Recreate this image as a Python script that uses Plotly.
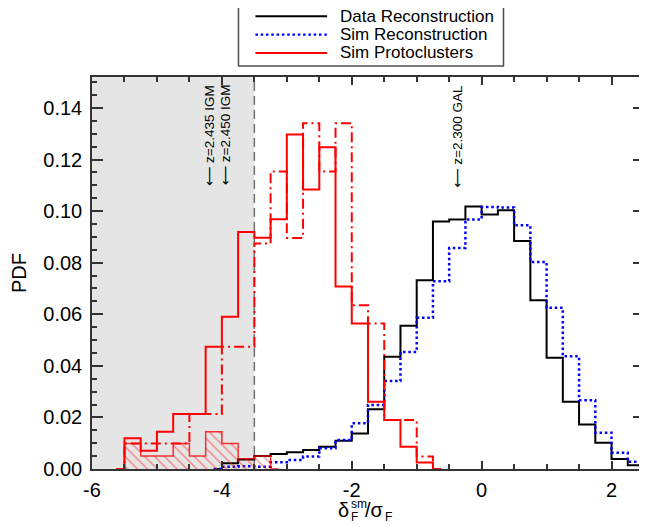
import plotly.graph_objects as go

# ---------------- data (bin centres, bin width 0.25) ----------------
red_x = [-5.625, -5.375, -5.125, -4.875, -4.625, -4.375, -4.125, -3.875, -3.625, -3.375,
         -3.125, -2.875, -2.625, -2.375, -2.125, -1.875, -1.625, -1.375, -1.125, -0.875, -0.625]
red_solid = [0.0, 0.0119, 0.0071, 0.0144, 0.0213, 0.0213, 0.0474, 0.0590, 0.0919, 0.0897,
             0.0968, 0.1297, 0.1084, 0.1248, 0.0708, 0.0564, 0.0261, 0.0190, 0.0086, 0.0025, 0.0]
red_dashdot = [0.0, 0.0099, 0.0099, 0.0099, 0.0099, 0.0213, 0.0213, 0.0474, 0.0474, 0.0874,
               0.1154, 0.0896, 0.1341, 0.1154, 0.1341, 0.0635, 0.0564, 0.0190, 0.0190, 0.0048, 0.0]

hatch_x = [-5.625, -5.375, -5.125, -4.875, -4.625, -4.375, -4.125, -3.875, -3.625, -3.375, -3.125]
hatch_y = [0.0, 0.0099, 0.0050, 0.0050, 0.0099, 0.0050, 0.0144, 0.0099, 0.0040, 0.0050, 0.0]

rec_x = [-4.125, -3.875, -3.625, -3.375, -3.125, -2.875, -2.625, -2.375, -2.125, -1.875,
         -1.625, -1.375, -1.125, -0.875, -0.625, -0.375, -0.125, 0.125, 0.375, 0.625,
         0.875, 1.125, 1.375, 1.625, 1.875, 2.125, 2.375, 2.625]
data_rec = [0.0, 0.0022, 0.0037, 0.0050, 0.0058, 0.0065, 0.0074, 0.0086, 0.0110, 0.0138,
            0.0232, 0.0435, 0.0555, 0.0732, 0.0960, 0.0967, 0.1018, 0.0987, 0.1003, 0.0884,
            0.0654, 0.0431, 0.0261, 0.0173, 0.0102, 0.0039, 0.0015, 0.0012]
sim_rec = [0.0, 0.0009, 0.0011, 0.0009, 0.0026, 0.0035, 0.0048, 0.0080, 0.0112, 0.0177,
           0.0248, 0.0341, 0.0454, 0.0586, 0.0728, 0.0857, 0.0967, 0.1016, 0.1014, 0.0945,
           0.0803, 0.0625, 0.0437, 0.0267, 0.0141, 0.0063, 0.0028, 0.0020]

x_tick_vals = [-6, -4, -2, 0, 2]
x_tick_text = ["-6", "-4", "-2", "0", "2"]

igm_x = [-4.2, -3.95]
igm_labels = ["z=2.435 IGM", "z=2.450 IGM"]
gal_x = [-0.37]
gal_labels = ["z=2.300 GAL"]

shade_x = [-6.0, -3.5]

legend_names = ["Data Reconstruction", "Sim Reconstruction", "Sim Protoclusters"]
legend_colors = ["#000000", "#0000ff", "#ff0000"]
legend_dash = ["solid", "2.5px,2.8px", "solid"]

FONT = "Liberation Sans, Arial, DejaVu Sans, sans-serif"

# the page body has an 8px default margin: the figure is sized to fit the window
OFF = 8
W, H = 647 - OFF, 527 - OFF
PL, PR, PT, PB_ = 92, 646, 77, 469          # wanted plot-area edges in window pixels

fig = go.Figure()

fig.add_trace(go.Scatter(x=rec_x, y=data_rec, mode="lines", line_shape="hvh",
                         line=dict(color="#000000", width=2), showlegend=False,
                         hoverinfo="skip"))
fig.add_trace(go.Scatter(x=rec_x, y=sim_rec, mode="lines", line_shape="hvh",
                         line=dict(color="#0000ff", width=2.5, dash="2.5px,2.8px"),
                         showlegend=False, hoverinfo="skip"))
fig.add_trace(go.Scatter(x=hatch_x, y=hatch_y, mode="lines", line_shape="hvh",
                         line=dict(color="rgba(255,0,0,0.8)", width=1.5),
                         fill="tozeroy", fillcolor="rgba(0,0,0,0)",
                         fillpattern=dict(shape="\\", fgcolor="#ff2020", bgcolor="rgba(0,0,0,0)",
                                          size=7, solidity=0.2),
                         showlegend=False, hoverinfo="skip"))
fig.add_trace(go.Scatter(x=red_x, y=red_dashdot, mode="lines", line_shape="hvh",
                         line=dict(color="#ff0000", width=2, dash="10px,4px,2px,4px"),
                         showlegend=False, hoverinfo="skip"))
fig.add_trace(go.Scatter(x=red_x, y=red_solid, mode="lines", line_shape="hvh",
                         line=dict(color="#ff0000", width=2),
                         showlegend=False, hoverinfo="skip"))

# grey shaded region and dashed boundary
fig.add_shape(type="rect", xref="x", yref="paper", x0=shade_x[0], x1=shade_x[1], y0=0, y1=1,
              fillcolor="#e5e5e5", line_width=0, layer="below")
fig.add_shape(type="line", xref="x", yref="paper", x0=shade_x[1], x1=shade_x[1], y0=0, y1=1,
              line=dict(color="#707070", width=1.5, dash="9px,5px"), layer="below")

# rotated redshift annotations
for xv, lab in zip(igm_x + gal_x, igm_labels + gal_labels):
    fig.add_annotation(x=xv, y=0.1498, xref="x", yref="y", text="\u27f5 " + lab,
                       textangle=-90, showarrow=False, xanchor="center", yanchor="top",
                       font=dict(family=FONT, size=13.5, color="#000000"))

# manual legend (paper coordinates)
PW, PH = PR - PL, PB_ - PT
def px(xp):
    return (xp - PL) / PW
def py(yp):
    return (PB_ - yp) / PH

fig.add_shape(type="rect", xref="paper", yref="paper", x0=px(239), x1=px(505),
              y0=py(66), y1=py(4), line=dict(color="#505050", width=1.5),
              fillcolor="white", layer="above")
rows = [16.2, 34.6, 52.9]
for name, col, dsh, ry in zip(legend_names, legend_colors, legend_dash, rows):
    fig.add_shape(type="line", xref="paper", yref="paper", x0=px(256), x1=px(328),
                  y0=py(ry), y1=py(ry), line=dict(color=col, width=2 if dsh == "solid" else 2.2, dash=dsh),
                  layer="above")
    fig.add_annotation(x=px(340), y=py(ry), xref="paper", yref="paper", text=name,
                       showarrow=False, xanchor="left", yanchor="middle", borderpad=0,
                       font=dict(family=FONT, size=17, color="#000000"))

# x-axis title built from stacked pieces
xt = [("\u03b4", 20, 338, 510), ("sm", 12, 350.5, 503.5), ("F", 12, 351, 517),
      ("/\u03c3", 20, 365, 510), ("F", 12, 385, 517)]
for txt, fs, xx, yy in xt:
    fig.add_annotation(x=px(xx), y=py(yy), xref="paper", yref="paper", text=txt,
                       showarrow=False, xanchor="left", yanchor="middle", borderpad=0,
                       font=dict(family=FONT, size=fs, color="#000000"))

axis_common = dict(showline=True, linecolor="#333333", linewidth=1.5, mirror="allticks",
                   ticks="inside", tickcolor="#333333", tickwidth=1.5, showgrid=False,
                   zeroline=False, tickfont=dict(family=FONT, size=20, color="#000000"))

fig.update_xaxes(range=[-6, 2.5], tickmode="array", tickvals=x_tick_vals, ticktext=x_tick_text,
                 ticklen=8, ticklabelstandoff=2,
                 minor=dict(tickmode="linear", tick0=0, dtick=0.5, ticklen=5, ticks="inside",
                            tickcolor="#333333", tickwidth=1.5),
                 **axis_common)
fig.update_yaxes(range=[0, 0.152], tick0=0, dtick=0.02, tickformat=".2f", ticklen=11,
                 ticklabelstandoff=4,
                 minor=dict(dtick=0.005, ticklen=5, ticks="inside", tickcolor="#333333",
                            tickwidth=1.5),
                 title=dict(text="PDF", font=dict(family=FONT, size=20, color="#000000"),
                            standoff=20),
                 **axis_common)

fig.update_layout(width=W, height=H,
                  margin=dict(l=PL - OFF, r=OFF + W - PR, t=PT - OFF, b=OFF + H - PB_),
                  paper_bgcolor="white", plot_bgcolor="white", showlegend=False)

fig.write_html("out.html")
